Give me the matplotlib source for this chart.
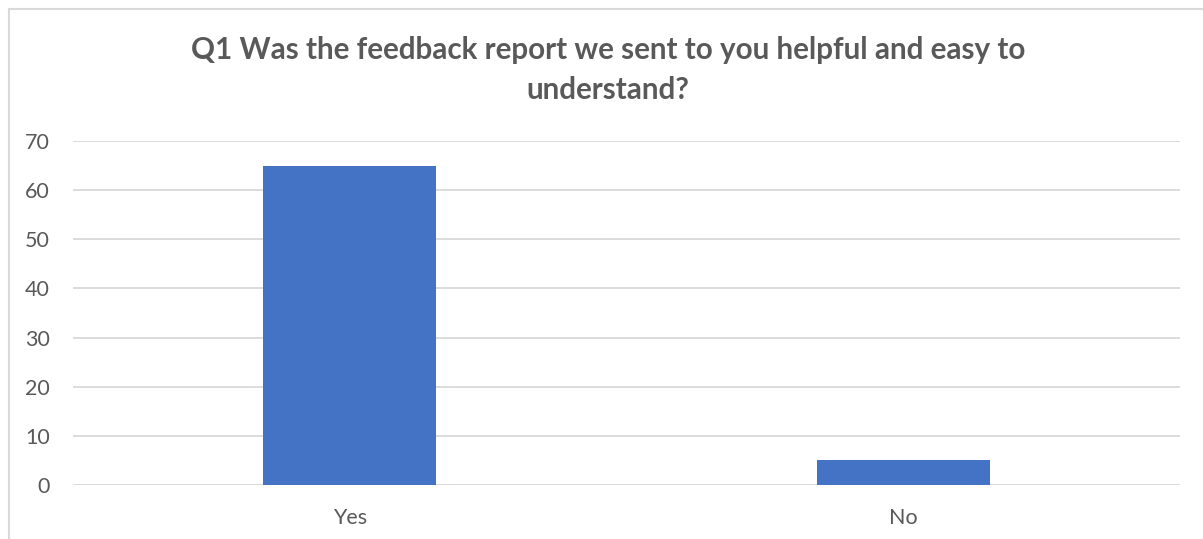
import matplotlib
matplotlib.use("Agg")
import matplotlib.pyplot as plt
from matplotlib.patches import Rectangle

categories = ["Yes", "No"]
values = [65, 5]
yticks = [0, 10, 20, 30, 40, 50, 60, 70]
title = "Q1 Was the feedback report we sent to you helpful and easy to\nunderstand?"

W, H = 1203, 539
fig = plt.figure(figsize=(W / 100, H / 100), dpi=100)
plt.rcParams['font.family'] = ['Lato', 'DejaVu Sans']

# chart border
fig.patches.append(Rectangle((8.5 / W, -0.1), 1.2, 1.1 - 8.5 / H,
                             transform=fig.transFigure, fill=False,
                             edgecolor="#d9d9d9", linewidth=1.5))

ax = fig.add_axes([73 / W, (H - 485) / H, (1180 - 73) / W, (485 - 141) / H])
x = list(range(len(categories)))
ax.bar(x, values, width=0.312, color="#4472c4", zorder=3)
ax.set_xlim(-0.5, 1.5)
ax.set_ylim(0, 70)
ax.set_yticks(yticks)
ax.set_xticks(x)
ax.set_xticklabels(categories)
ax.grid(axis="y", color="#d9d9d9", linewidth=1.3, zorder=0)
for s in ax.spines.values():
    s.set_visible(False)
ax.tick_params(axis="both", length=0, labelsize=15.5, colors="#595959")
ax.tick_params(axis="y", pad=16.5)
ax.tick_params(axis="x", pad=16.5)

fig.text(608 / W, 1 - 70 / H, title, ha="center", va="center",
         fontsize=21.3, fontweight="bold", color="#595959", linespacing=1.55)

fig.savefig("out.png", dpi=100)
